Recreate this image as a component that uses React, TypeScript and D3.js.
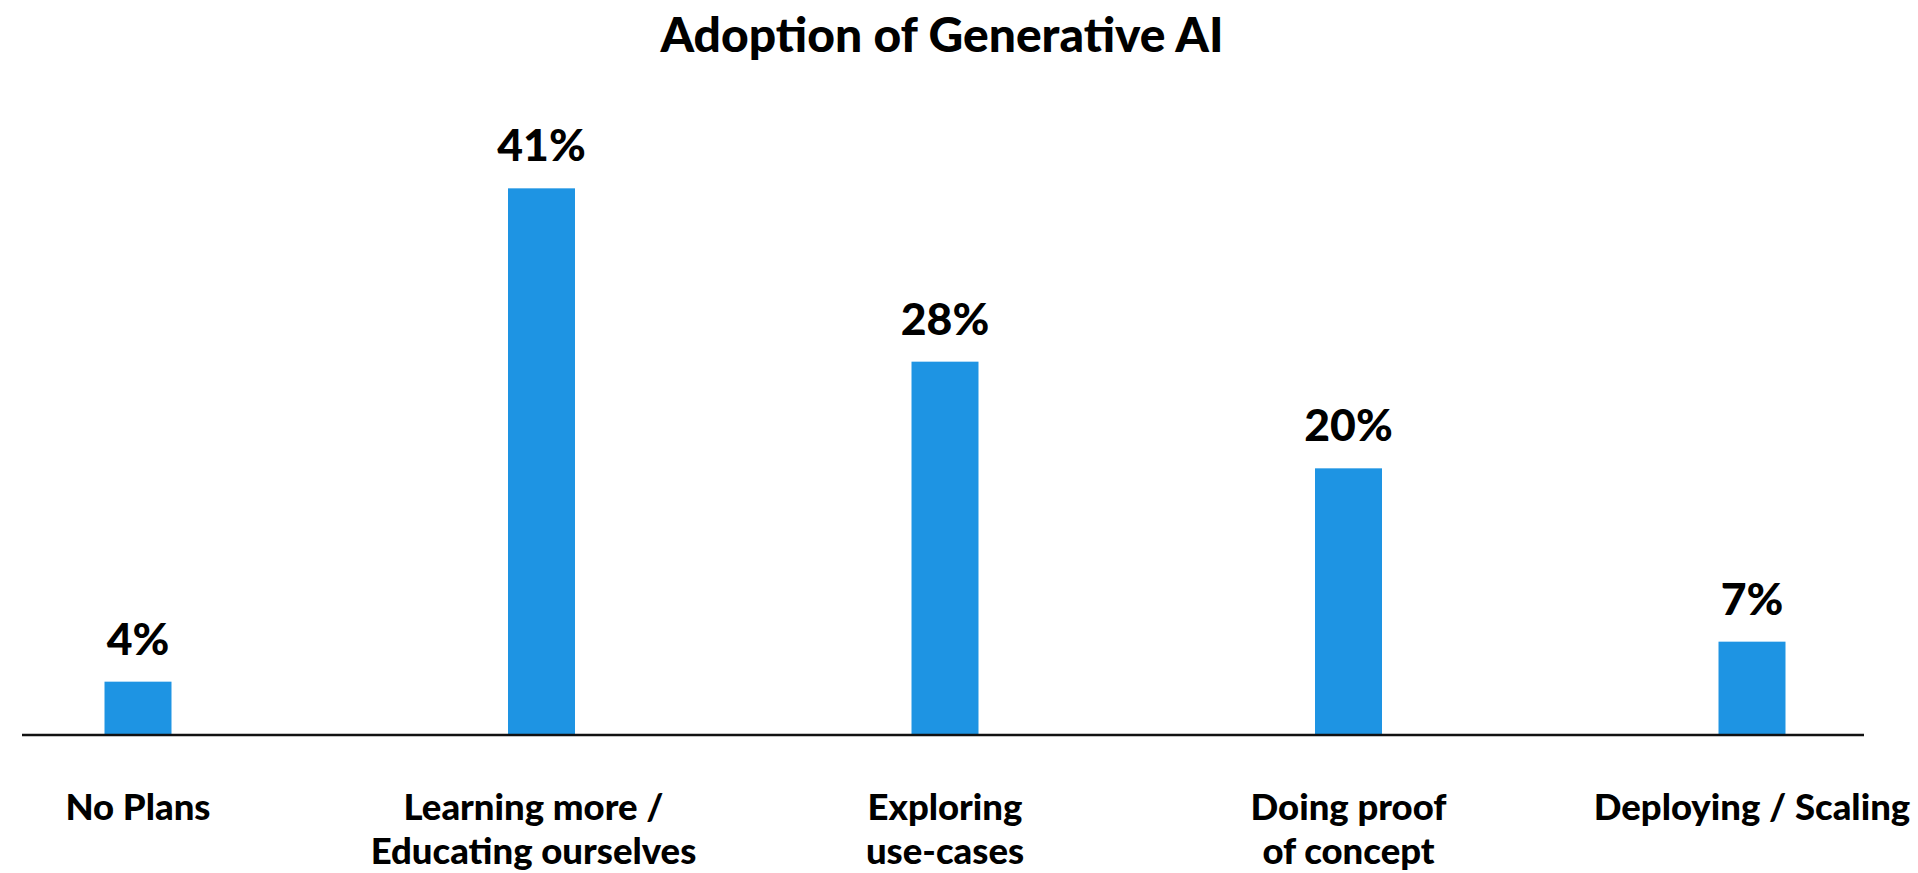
import React from "react";
import * as d3 from "d3";

const WIDTH = 1918;
const HEIGHT = 873;
const FONT = "Lato, 'Open Sans', sans-serif";

const title = "Adoption of Generative AI";
const categories = ["No Plans", "Learning more", "Exploring", "Doing proof", "Deploying"];
const categoryLines = [
  ["No Plans"],
  ["Learning more /", "Educating ourselves"],
  ["Exploring", "use-cases"],
  ["Doing proof", "of concept"],
  ["Deploying / Scaling"],
];
const values = [4, 41, 28, 20, 7];

export default function App() {
  const x = d3
    .scaleBand<string>()
    .domain(categories)
    .range([-63.75, 1953.75])
    .paddingInner(0.834)
    .paddingOuter(0.417);
  const y = d3.scaleLinear().domain([0, 45]).range([735, 135]);

  return (
    <svg
      width={WIDTH}
      height={HEIGHT}
      style={{ position: "absolute", left: 0, top: 0, display: "block", background: "#fff" }}
      fontFamily={FONT}
    >
      <text x={942} y={52} textAnchor="middle" fontSize={48} fontWeight={900} fill="#000">
        {title}
      </text>

      {values.map((v, i) => {
        const cat = categories[i];
        const bx = x(cat) ?? 0;
        return (
          <g key={cat}>
            <rect x={bx} y={y(v)} width={x.bandwidth()} height={y(0) - y(v)} fill="#1e94e3" />
            <text
              x={bx + x.bandwidth() / 2}
              y={y(v) - 27}
              textAnchor="middle"
              fontSize={44.5}
              fontWeight={900}
              fill="#000"
            >
              {v}%
            </text>
          </g>
        );
      })}

      <line x1={22} x2={1864} y1={y(0)} y2={y(0)} stroke="#111" strokeWidth={2.5} />

      {categoryLines.map((lines, i) => {
        // the second label sits a little left of its bar in the original
        const cx = (x(categories[i]) ?? 0) + x.bandwidth() / 2 + (i === 1 ? -8 : 0);
        return (
          <text key={categories[i]} textAnchor="middle" fontSize={36.5} fontWeight={900} fill="#000">
            {lines.map((line, j) => (
              <tspan key={j} x={cx} y={820 + j * 44}>
                {line}
              </tspan>
            ))}
          </text>
        );
      })}
    </svg>
  );
}
